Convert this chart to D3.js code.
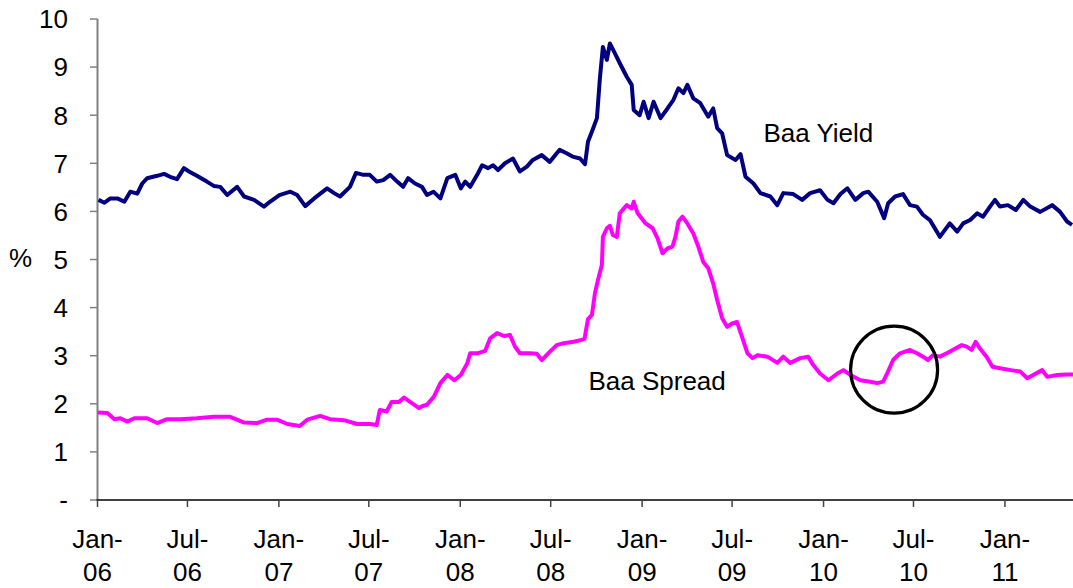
<!DOCTYPE html>
<html>
<head>
<meta charset="utf-8">
<script src="https://cdn.jsdelivr.net/npm/d3@7"></script>
<style>
  html, body { margin: 0; padding: 0; background: #fff; }
  svg text { font-family: "Liberation Sans", Arial, sans-serif; fill: #000; }
</style>
</head>
<body>
<svg id="chart" width="1073" height="588"></svg>
<script>
// Baa corporate bond yield (%), sampled dates
const yieldDates = [
  "2006-01-03","2006-01-15","2006-01-27","2006-02-10","2006-02-24","2006-03-08","2006-03-22","2006-04-01",
  "2006-04-11","2006-05-01","2006-05-15","2006-05-27","2006-06-10","2006-06-24","2006-07-04","2006-07-20",
  "2006-08-09","2006-08-23","2006-09-05","2006-09-19","2006-10-09","2006-10-23","2006-11-12","2006-12-02",
  "2006-12-14","2007-01-02","2007-01-24","2007-02-07","2007-02-23","2007-03-13","2007-04-08","2007-04-22",
  "2007-05-04","2007-05-24","2007-06-05","2007-06-20","2007-07-03","2007-07-17","2007-07-30","2007-08-13",
  "2007-08-27","2007-09-08","2007-09-18","2007-10-02","2007-10-16","2007-10-26","2007-11-08","2007-11-22",
  "2007-12-06","2007-12-22","2008-01-02","2008-01-11","2008-01-21","2008-02-04","2008-02-14","2008-02-26",
  "2008-03-07","2008-03-17","2008-03-31","2008-04-16","2008-04-30","2008-05-14","2008-05-26","2008-06-13",
  "2008-06-29","2008-07-19","2008-08-02","2008-08-14","2008-08-29","2008-09-08","2008-09-14","2008-09-22",
  "2008-10-02","2008-10-08","2008-10-14","2008-10-22","2008-10-28","2008-11-07","2008-11-17","2008-12-01",
  "2008-12-11","2008-12-15","2008-12-27","2009-01-04","2009-01-14","2009-01-24","2009-02-07","2009-02-21",
  "2009-03-05","2009-03-15","2009-03-25","2009-04-02","2009-04-14","2009-04-28","2009-05-14","2009-05-24",
  "2009-06-01","2009-06-11","2009-06-21","2009-07-08","2009-07-18","2009-07-28","2009-08-13","2009-08-27",
  "2009-09-16","2009-09-30","2009-10-12","2009-11-01","2009-11-19","2009-12-05","2009-12-25","2010-01-09",
  "2010-01-21","2010-02-04","2010-02-18","2010-03-06","2010-03-22","2010-04-01","2010-04-19","2010-05-03",
  "2010-05-11","2010-05-25","2010-06-10","2010-06-24","2010-07-08","2010-07-20","2010-08-03","2010-08-17",
  "2010-08-23","2010-09-02","2010-09-12","2010-09-27","2010-10-09","2010-10-23","2010-11-06","2010-11-18",
  "2010-12-02","2010-12-12","2010-12-22","2011-01-07","2011-01-23","2011-02-07","2011-02-21","2011-03-13",
  "2011-04-06","2011-04-22","2011-05-06","2011-05-16"
];
const yieldValues = [
  6.24,6.18,6.27,6.27,6.20,6.41,6.37,6.58,
  6.69,6.74,6.78,6.72,6.67,6.90,6.83,6.74,
  6.62,6.53,6.51,6.34,6.51,6.31,6.24,6.10,
  6.20,6.34,6.41,6.34,6.11,6.27,6.48,6.38,
  6.31,6.51,6.80,6.76,6.76,6.62,6.65,6.76,
  6.62,6.51,6.69,6.58,6.51,6.34,6.41,6.27,
  6.69,6.76,6.48,6.62,6.51,6.76,6.96,6.90,
  6.96,6.86,7.00,7.10,6.83,6.93,7.07,7.17,
  7.03,7.28,7.21,7.14,7.10,6.98,7.45,7.66,
  7.94,8.77,9.42,9.15,9.49,9.29,9.08,8.80,
  8.63,8.11,8.00,8.28,7.94,8.28,7.94,8.14,
  8.32,8.56,8.46,8.63,8.35,8.25,7.97,8.14,
  7.73,7.62,7.17,7.07,7.19,6.72,6.58,6.38,
  6.31,6.13,6.38,6.36,6.24,6.38,6.44,6.24,
  6.17,6.36,6.48,6.24,6.38,6.41,6.20,5.86,
  6.17,6.31,6.36,6.13,6.10,5.93,5.82,5.58,
  5.47,5.61,5.75,5.58,5.75,5.82,5.96,5.89,
  6.10,6.24,6.10,6.13,6.03,6.24,6.10,5.99,
  6.13,5.99,5.79,5.72
];

// Baa spread over Treasuries (percentage points), sampled dates
const spreadDates = [
  "2006-01-02","2006-01-21","2006-02-04","2006-02-16","2006-03-02","2006-03-16","2006-04-11","2006-05-01",
  "2006-05-21","2006-06-16","2006-07-20","2006-08-23","2006-09-25","2006-10-23","2006-11-18","2006-12-08",
  "2006-12-28","2007-01-18","2007-02-12","2007-02-27","2007-03-25","2007-04-14","2007-05-12","2007-06-07",
  "2007-07-03","2007-07-17","2007-07-23","2007-08-06","2007-08-16","2007-08-31","2007-09-10","2007-09-22",
  "2007-10-10","2007-10-16","2007-10-26","2007-11-09","2007-11-22","2007-12-06","2007-12-20","2008-01-02",
  "2008-01-15","2008-01-21","2008-02-04","2008-02-20","2008-03-01","2008-03-15","2008-03-29","2008-04-10",
  "2008-04-20","2008-04-30","2008-05-20","2008-06-03","2008-06-13","2008-06-27","2008-07-13","2008-07-27",
  "2008-08-16","2008-09-01","2008-09-07","2008-09-14","2008-09-22","2008-09-28","2008-10-04","2008-10-12",
  "2008-10-14","2008-10-22","2008-10-28","2008-11-03","2008-11-11","2008-11-17","2008-12-01","2008-12-11",
  "2008-12-15","2008-12-23","2009-01-08","2009-01-22","2009-02-01","2009-02-11","2009-02-21","2009-03-03",
  "2009-03-09","2009-03-15","2009-03-23","2009-04-02","2009-04-14","2009-04-24","2009-05-04","2009-05-14",
  "2009-05-24","2009-06-01","2009-06-11","2009-06-21","2009-07-01","2009-07-11","2009-07-22","2009-08-01",
  "2009-08-11","2009-08-21","2009-09-10","2009-09-30","2009-10-12","2009-10-26","2009-11-15","2009-12-01",
  "2009-12-11","2009-12-25","2010-01-11","2010-01-29","2010-02-10","2010-02-24","2010-03-16","2010-04-05",
  "2010-04-19","2010-05-01","2010-05-09","2010-05-21","2010-06-04","2010-06-24","2010-07-08","2010-07-20",
  "2010-07-30","2010-08-09","2010-08-23","2010-09-06","2010-09-18","2010-10-06","2010-10-16","2010-10-26",
  "2010-11-03","2010-11-11","2010-11-25","2010-12-07","2010-12-22","2011-01-13","2011-02-01","2011-02-15",
  "2011-02-27","2011-03-17","2011-03-27","2011-04-16","2011-05-06","2011-05-18"
];
const spreadValues = [
  1.82,1.81,1.68,1.70,1.63,1.70,1.70,1.60,
  1.68,1.68,1.70,1.73,1.73,1.61,1.60,1.67,
  1.67,1.58,1.54,1.67,1.75,1.68,1.66,1.58,
  1.58,1.56,1.87,1.84,2.04,2.04,2.13,2.04,
  1.91,1.95,1.98,2.15,2.43,2.60,2.49,2.60,
  2.84,3.05,3.05,3.10,3.36,3.47,3.41,3.43,
  3.19,3.05,3.05,3.04,2.91,3.06,3.22,3.26,
  3.29,3.33,3.35,3.76,3.85,4.30,4.57,4.89,
  5.47,5.65,5.70,5.51,5.47,5.96,6.13,6.06,
  6.20,5.96,5.75,5.65,5.44,5.13,5.23,5.27,
  5.47,5.79,5.89,5.75,5.54,5.27,4.95,4.82,
  4.50,4.16,3.78,3.60,3.67,3.70,3.36,3.05,
  2.95,3.01,2.98,2.85,2.98,2.85,2.95,2.98,
  2.81,2.63,2.49,2.63,2.70,2.60,2.49,2.46,
  2.43,2.46,2.63,2.91,3.05,3.12,3.05,2.98,
  2.91,3.01,2.98,3.05,3.12,3.22,3.19,3.12,
  3.29,3.16,2.98,2.77,2.74,2.70,2.67,2.53,
  2.60,2.70,2.56,2.60,2.61,2.61
];

// Axis ticks
const yTickValues = [0, 1, 2, 3, 4, 5, 6, 7, 8, 9, 10];
const xTickDates = ["2006-01-01","2006-07-01","2007-01-01","2007-07-01","2008-01-01","2008-07-01",
                    "2009-01-01","2009-07-01","2010-01-01","2010-07-01","2011-01-01"];

// Series labels and highlighted area (in data coordinates)
const seriesLabels = [
  { text: "Baa Yield",  date: "2009-09-02", value: 7.45 },
  { text: "Baa Spread", date: "2008-09-15", value: 2.29 }
];
const highlight = { date: "2010-05-23", value: 2.71, radius: 43.5 };

const parse = d3.timeParse("%Y-%m-%d");
const toSeries = (dates, values) => dates.map((d, i) => ({ date: parse(d), value: values[i] }));
const yieldSeries = toSeries(yieldDates, yieldValues);
const spreadSeries = toSeries(spreadDates, spreadValues);

const svg = d3.select("#chart");
const FONT = 26;

const x = d3.scaleTime()
  .domain([parse("2006-01-01"), parse("2011-05-18")])
  .range([97.5, 1073]);
const y = d3.scaleLinear().domain([0, 10]).range([500, 19]);

// Y axis: gray line with outward ticks
const yAxis = svg.append("g");
yAxis.append("line")
  .attr("x1", x.range()[0]).attr("x2", x.range()[0])
  .attr("y1", y(0)).attr("y2", y(10))
  .attr("stroke", "#808080").attr("stroke-width", 2);
yAxis.selectAll("line.tick").data(yTickValues).join("line")
  .attr("class", "tick")
  .attr("x1", 90).attr("x2", x.range()[0])
  .attr("y1", d => y(d)).attr("y2", d => y(d))
  .attr("stroke", "#808080").attr("stroke-width", 1.5);
yAxis.selectAll("text").data(yTickValues).join("text")
  .attr("x", 68)
  .attr("y", d => y(d) + FONT * 0.36)
  .attr("text-anchor", "end")
  .attr("font-size", FONT)
  .text(d => d === 0 ? "-" : d);

svg.append("text")
  .attr("x", 9).attr("y", 267)
  .attr("font-size", FONT)
  .text("%");

// X axis: black line, half-year ticks, two-line labels
const xAxis = svg.append("g");
xAxis.append("line")
  .attr("x1", x.range()[0] - 1).attr("x2", 1073)
  .attr("y1", y(0)).attr("y2", y(0))
  .attr("stroke", "#000").attr("stroke-width", 1.5);
const xTicks = xTickDates.map(parse);
xAxis.selectAll("line.tick").data(xTicks).join("line")
  .attr("class", "tick")
  .attr("x1", d => x(d)).attr("x2", d => x(d))
  .attr("y1", y(0)).attr("y2", y(0) + 7)
  .attr("stroke", "#444").attr("stroke-width", 1.5);
const fmtMonth = d3.timeFormat("%b-");
const fmtYear = d3.timeFormat("%y");
const xLabels = xAxis.selectAll("text").data(xTicks).join("text")
  .attr("text-anchor", "middle")
  .attr("font-size", FONT);
xLabels.append("tspan").attr("x", d => x(d)).attr("y", 548).text(d => fmtMonth(d));
xLabels.append("tspan").attr("x", d => x(d)).attr("y", 581).text(d => fmtYear(d));

// Series lines
const line = d3.line()
  .x(d => x(d.date))
  .y(d => y(d.value));

svg.append("path")
  .datum(yieldSeries)
  .attr("d", line)
  .attr("fill", "none")
  .attr("stroke", "#000080")
  .attr("stroke-width", 4)
  .attr("stroke-linejoin", "round");

svg.append("path")
  .datum(spreadSeries)
  .attr("d", line)
  .attr("fill", "none")
  .attr("stroke", "#FF00FF")
  .attr("stroke-width", 4)
  .attr("stroke-linejoin", "round");

// Series labels
svg.selectAll("text.series").data(seriesLabels).join("text")
  .attr("class", "series")
  .attr("x", d => x(parse(d.date)))
  .attr("y", d => y(d.value))
  .attr("font-size", FONT)
  .text(d => d.text);

// Highlight circle
svg.append("circle")
  .attr("cx", x(parse(highlight.date)))
  .attr("cy", y(highlight.value))
  .attr("r", highlight.radius)
  .attr("fill", "none")
  .attr("stroke", "#000")
  .attr("stroke-width", 3.2);
</script>
</body>
</html>
